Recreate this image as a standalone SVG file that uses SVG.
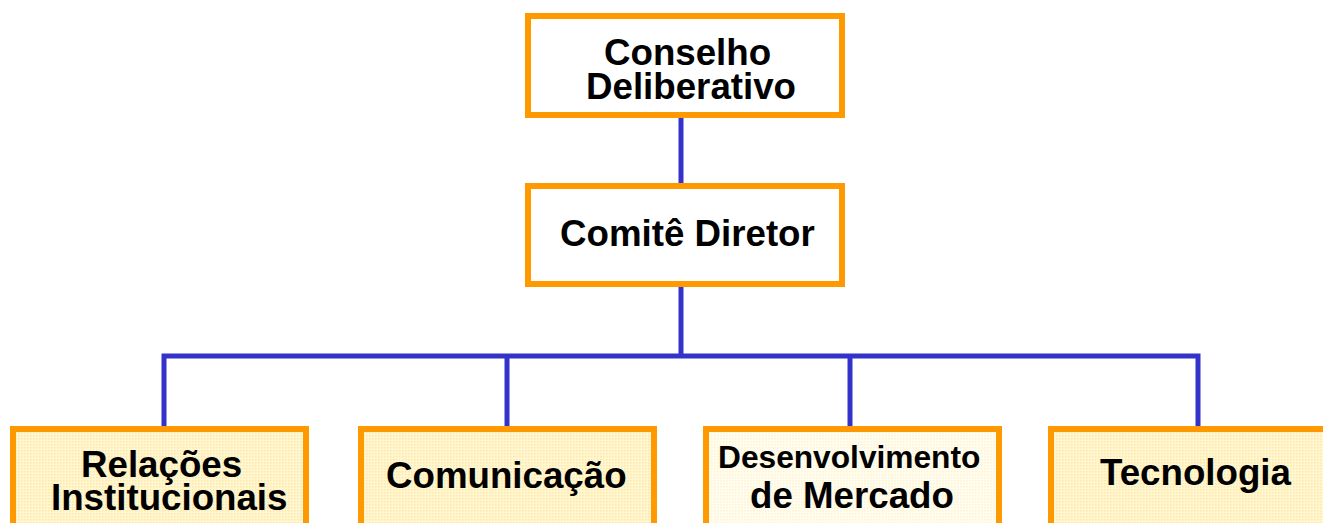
<svg xmlns="http://www.w3.org/2000/svg" width="1323" height="523" viewBox="0 0 1323 523">
  <style>
    .box { stroke: #FF9900; stroke-width: 6; }
    .top { fill: #FFFFFF; }
    .sub { fill: url(#dots); }
    .sub2 { fill: url(#dots2); }
    .t { font-family: "Liberation Sans", Arial, sans-serif; font-weight: bold; font-size: 36.7px; fill: #000000; }
    .ts { font-size: 31.7px; }
    .conn { stroke: #3333CC; stroke-width: 5; fill: none; stroke-linejoin: miter; }
  </style>
  <defs>
    <pattern id="dots" width="3" height="3" patternUnits="userSpaceOnUse">
      <rect width="3" height="3" fill="#FFF6D2"/>
      <rect width="1.5" height="1.5" fill="#FFE8A6"/>
    </pattern>
    <pattern id="dots2" width="3" height="3" patternUnits="userSpaceOnUse">
      <rect width="3" height="3" fill="#FFFCF0"/>
      <rect width="1.5" height="1.5" fill="#FFF3D0"/>
    </pattern>
  </defs>
  <rect width="1323" height="523" fill="#FFFFFF"/>
  <g id="connectors">
    <path class="conn" d="M681 116 V188"/>
    <path class="conn" d="M681 285 V356"/>
    <path class="conn" d="M164 429 V356 H1198 V429"/>
    <path class="conn" d="M507 356 V429"/>
    <path class="conn" d="M850 356 V429"/>
  </g>
  <g id="conselho">
    <rect class="box top" x="528" y="16" width="314" height="99"/>
    <text class="t" x="604" y="65">Conselho</text>
    <text class="t" x="586" y="99">Deliberativo</text>
  </g>
  <g id="comite">
    <rect class="box top" x="528" y="186" width="314" height="98"/>
    <text class="t" x="560" y="246">Comitê Diretor</text>
  </g>
  <g id="relacoes">
    <rect class="box sub" x="13" y="429" width="293" height="120"/>
    <text class="t" x="81" y="477">Relações</text>
    <text class="t" x="51" y="510">Institucionais</text>
  </g>
  <g id="comunicacao">
    <rect class="box sub" x="361" y="429" width="293" height="120"/>
    <text class="t" x="386" y="488">Comunicação</text>
  </g>
  <g id="desenvolvimento">
    <rect class="box sub2" x="706" y="429" width="293" height="120"/>
    <text class="t ts" x="718" y="468">Desenvolvimento</text>
    <text class="t" x="750" y="508">de Mercado</text>
  </g>
  <g id="tecnologia">
    <rect class="box sub" x="1051" y="429" width="300" height="120"/>
    <text class="t" x="1100" y="485">Tecnologia</text>
  </g>
</svg>
